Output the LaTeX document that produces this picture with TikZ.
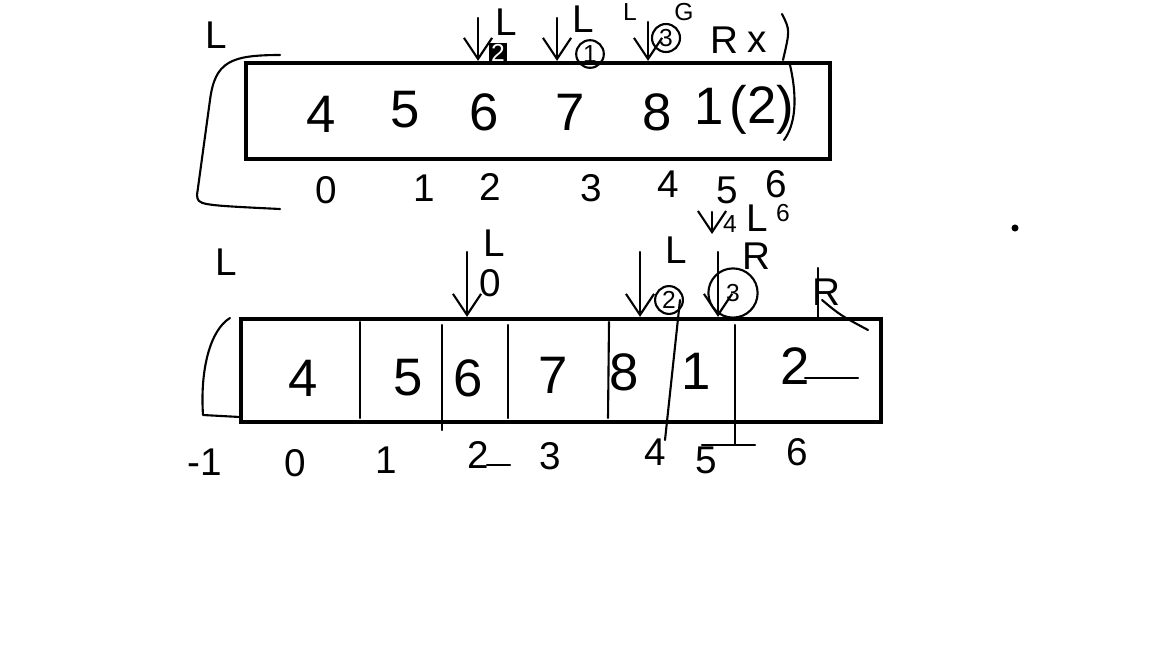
\documentclass[tikz,border=0pt]{standalone}
\usepackage{fontspec}
\setmainfont{Liberation Sans}
\usetikzlibrary{arrows.meta, positioning, calc}

\begin{document}
\begin{tikzpicture}[
    x=0.01cm, y=-0.01cm,
    arraybox/.style={rectangle, draw, line width=1.2pt, inner sep=0pt},
    digit/.style={font=\fontsize{15}{15}\selectfont, inner sep=0pt},
    idx/.style={font=\fontsize{11}{11}\selectfont, inner sep=0pt},
    tag/.style={font=\fontsize{11}{11}\selectfont, inner sep=0pt},
    small/.style={font=\fontsize{7}{7}\selectfont, inner sep=0.5pt},
    pen/.style={line width=0.6pt, line cap=round, line join=round},
    ptr/.style={pen, -{Straight Barb[length=6pt, width=8pt]}},
    ring/.style={circle, draw, line width=0.6pt, inner sep=0.6pt, font=\fontsize{7}{7}\selectfont}
]
\useasboundingbox (0,0) rectangle (1152,648);

% Top array
\node[arraybox, minimum width=5.84cm, minimum height=0.96cm] (topArr) at (538,111) {};
\node[digit] (t0) at (321,114) {4};
\node[digit] (t1) at (405,110) {5};
\node[digit] (t2) at (484,112) {6};
\node[digit] (t3) at (570,112) {7};
\node[digit] (t4) at (657,112) {8};
\node[digit] (t5) at (709,106) {1};
\node[digit] (t6) at (762,110) {(2)};

% Top indices
\node[idx] (ti0) at (326,190) {0};
\node[idx] (ti1) at (424,188) {1};
\node[idx] (ti2) at (490,187) {2};
\node[idx] (ti3) at (591,188) {3};
\node[idx] (ti4) at (668,184) {4};
\node[idx] (ti5) at (727,190) {5};
\node[idx] (ti6) at (776,184) {6};

% Top bracket and labels
\node[tag] (tL) at (216,35) {L};
\draw[pen] (280,55) .. controls (230,55) and (215,62) .. (210,100) -- (197,195) .. controls (198,205) .. (280,209);
\draw[pen] (782,14) .. controls (790,30) .. (783,60);
\draw[pen] (790,65) .. controls (798,100) and (795,125) .. (784,140);

% Top pointers
\coordinate (tp0) at (478,18);
\coordinate (tp1) at (557,18);
\coordinate (tp2) at (648,22);
\draw[ptr] (tp0) -- (tp0 |- topArr.north);
\draw[ptr] (tp1) -- (tp1 |- topArr.north);
\draw[ptr] (tp2) -- (tp2 |- topArr.north);
\node[tag] (tpL0) at (506,22) {L};
\node[small, fill=black, text=white] (tpN0) at (498,53) {2};
\node[tag] (tpL1) at (583,19) {L};
\node[ring] (tpN1) at (590,54) {1};
\node[small] (tpL2) at (630,12) {L};
\node[ring] (tpN2) at (666,38) {3};
\node[small] (tpG) at (684,12) {G};
\node[tag] (tpR) at (724,40) {R};
\node[idx] (tpX) at (757,42) {x};

% Bottom array
\node[arraybox, minimum width=6.40cm, minimum height=1.03cm] (botArr) at (561,370.5) {};
\draw[pen] (360,322) -- (360,418);
\draw[pen] (442,325) -- (442,430);
\draw[pen] (508,325) -- (508,418);
\draw[pen] (609,322) -- (608,418);
\draw[pen] (680,300) -- (665,440);
\draw[pen] (735,325) -- (735,445);
\draw[pen] (702,445) -- (755,445);
\node[digit] (b0) at (303,378) {4};
\node[digit] (b1) at (408,378) {5};
\node[digit] (b2) at (468,378) {6};
\node[digit] (b3) at (553,375) {7};
\node[digit] (b4) at (624,372) {8};
\node[digit] (b5) at (696,371) {1};
\node[digit] (b6) at (795,366) {2};
\draw[pen] (805,378) -- (858,378);

% Bottom indices
\node[idx] (bim) at (205,462) {-1};
\node[idx] (bi0) at (295,463) {0};
\node[idx] (bi1) at (386,460) {1};
\node[idx] (bi2) at (478,455) {2};
\draw[pen] (487,465) -- (510,465);
\node[idx] (bi3) at (550,456) {3};
\node[idx] (bi4) at (655,452) {4};
\node[idx] (bi5) at (706,460) {5};
\node[idx] (bi6) at (797,452) {6};

% Bottom bracket and labels
\node[tag] (bL) at (226,262) {L};
\draw[pen] (230,318) .. controls (210,330) and (200,370) .. (203,415) -- (240,417);

% Bottom pointers
\coordinate (bp0) at (467,252);
\coordinate (bp1) at (640,252);
\coordinate (bp2) at (718,252);
\coordinate (bp3) at (818,268);
\draw[ptr] (bp0) -- (bp0 |- botArr.north);
\draw[ptr] (bp1) -- (bp1 |- botArr.north);
\draw[ptr] (bp2) -- (bp2 |- botArr.north);
\draw[pen] (bp3) -- (bp3 |- botArr.north);
\draw[pen] (822,300) .. controls (840,315) .. (868,330);
\node[tag] (bpL0) at (494,243) {L};
\node[tag] (bpN0) at (490,283) {0};
\node[tag] (bpL1) at (676,250) {L};
\node[ring] (bpN1) at (669,300) {2};
\node[ring, minimum size=14pt] (bpN2) at (733,293) {3};
\node[tag] (bpR2) at (756,256) {R};
\node[tag] (bpR3) at (826,292) {R};
\draw[ptr] (712,212) -- (712,234);
\node[small] (bpN3) at (730,224) {4};
\node[tag] (bpL3) at (757,218) {L};
\node[small] (bp6) at (783,213) {6};
\fill (1015,228) circle (1pt);

\end{tikzpicture}
\end{document}
